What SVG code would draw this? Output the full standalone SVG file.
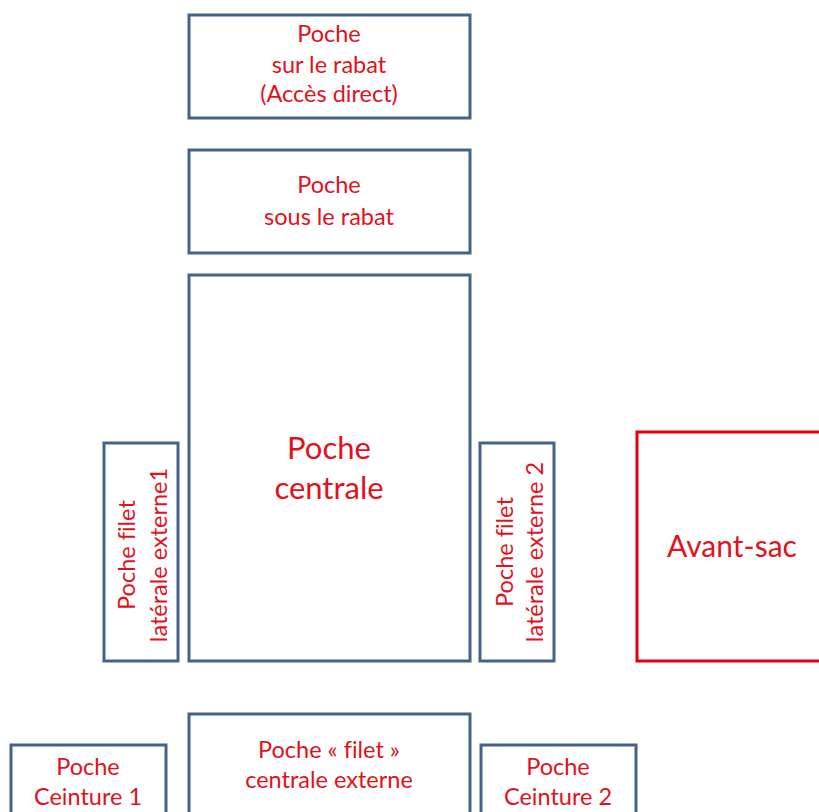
<svg xmlns="http://www.w3.org/2000/svg" width="819" height="812" viewBox="0 0 819 812">
<style>
.box{fill:#ffffff;stroke:#44638b;stroke-width:3}
.rbox{fill:#ffffff;stroke:#e3000f;stroke-width:3}
.t{font-family:Lato,"Liberation Sans",sans-serif;fill:#e2111b;text-anchor:middle;font-size:23.5px;font-variant-ligatures:none}
.big{font-size:31px}
.mid{font-size:30px}
</style>
<rect width="819" height="812" fill="#ffffff"/>
<g id="connectors"></g>
<g id="poche-sur-rabat">
<rect class="box" x="189" y="15" width="281" height="103"/>
<text class="t" x="329" y="42">Poche</text>
<text class="t" x="329" y="73">sur le rabat</text>
<text class="t" x="329" y="102">(Accès direct)</text>
</g>
<g id="poche-sous-rabat">
<rect class="box" x="189" y="150" width="281" height="103"/>
<text class="t" x="329" y="193">Poche</text>
<text class="t" x="329" y="225">sous le rabat</text>
</g>
<g id="poche-centrale">
<rect class="box" x="189" y="275" width="281" height="386"/>
<text class="t big" x="329" y="459">Poche</text>
<text class="t big" x="329" y="499">centrale</text>
</g>
<g id="poche-laterale-1">
<rect class="box" x="104" y="443" width="74" height="218"/>
<text class="t" transform="translate(135,555) rotate(-90)">Poche filet</text>
<text class="t" transform="translate(167,555) rotate(-90)">latérale externe1</text>
</g>
<g id="poche-laterale-2">
<rect class="box" x="480" y="443" width="74" height="218"/>
<text class="t" transform="translate(513,552) rotate(-90)">Poche filet</text>
<text class="t" transform="translate(543,552) rotate(-90)">latérale externe 2</text>
</g>
<g id="avant-sac">
<rect class="rbox" x="637" y="432" width="200" height="229"/>
<text class="t mid" x="732" y="557">Avant-sac</text>
</g>
<g id="poche-filet-centrale">
<rect class="box" x="189" y="714" width="281" height="120"/>
<text class="t" x="329" y="758">Poche « filet »</text>
<text class="t" x="329" y="788">centrale externe</text>
</g>
<g id="poche-ceinture-1">
<rect class="box" x="11" y="745" width="155" height="90"/>
<text class="t" x="88" y="775">Poche</text>
<text class="t" x="88" y="805">Ceinture 1</text>
</g>
<g id="poche-ceinture-2">
<rect class="box" x="481" y="745" width="155" height="90"/>
<text class="t" x="558" y="775">Poche</text>
<text class="t" x="558" y="805">Ceinture 2</text>
</g>
</svg>
